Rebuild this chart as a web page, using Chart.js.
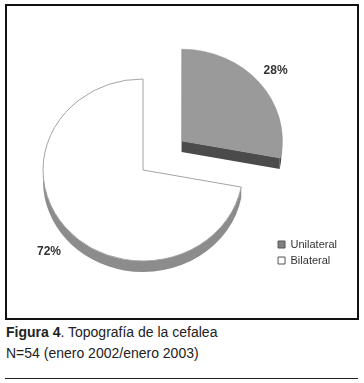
<!DOCTYPE html>
<html lang="es">
<head>
<meta charset="UTF-8">
<title>Topografía de la cefalea</title>
<meta name="viewport" content="width=device-width, initial-scale=1.0">
<style>
  body {
    margin: 0;
    background: #fff;
    font-family: "Liberation Sans", Arial, sans-serif;
  }
  #box {
    position: absolute;
    left: 5px; top: 4px;
    width: 350px; height: 312px;
    border: 2px solid #111;
  }
  #wrap {
    position: absolute;
    left: 0; top: 0;
    width: 364px; height: 320px;
  }
  #caption {
    position: absolute;
    left: 6px; top: 322px;
    font-size: 14px;
    line-height: 21px;
    color: #222;
  }
  #rule {
    position: absolute;
    left: 5px; top: 378px;
    width: 353px; height: 1px;
    background: #222;
  }
</style>
</head>
<body>

<div id="box"></div>
<div id="wrap"><canvas id="pie"></canvas></div>
<div id="caption"><b>Figura 4</b>. Topografía de la cefalea<br>N=54 (enero 2002/enero 2003)</div>
<div id="rule"></div>

<script src="https://cdn.jsdelivr.net/npm/chart.js"></script>
<script>
// datos
const categories = ["Unilateral", "Bilateral"];
const percentages = [28, 72];

// estilo
const sliceColors = ["#9a9a9a", "#ffffff"];
const sliceBorders = ["#8a8a8a", "#a0a0a0"];
const sideColors = ["#4b4b4b", "#8c8c8c"];
const TILT = 0.91;       // aplastado vertical del "3D"
const DEPTH = 11;        // grosor visible en px
const OFFSET_DIV = 4;    // ArcElement divide el offset al dibujar

function arcGeom(arc) {
  const p = arc.getProps(["x", "y", "startAngle", "endAngle", "outerRadius"], true);
  const mid = (p.startAngle + p.endAngle) / 2;
  const off = (arc.options.offset || 0) / OFFSET_DIV;
  return {
    cx: p.x + Math.cos(mid) * off,
    cy: p.y + Math.sin(mid) * off,
    r: p.outerRadius, s: p.startAngle, e: p.endAngle, mid: mid
  };
}

const pie3d = {
  id: "pie3d",
  beforeDatasetsDraw(chart) {
    const ctx = chart.ctx;
    const meta = chart.getDatasetMeta(0);
    const cy0 = meta.data[0].y;
    ctx.save();
    ctx.translate(0, cy0);
    ctx.scale(1, TILT);
    ctx.translate(0, -cy0);
    const d = DEPTH / TILT;
    meta.data.forEach((arc, i) => {
      const g = arcGeom(arc);
      ctx.fillStyle = sideColors[i];
      // pared exterior (solo la mitad frontal)
      const a1 = Math.max(g.s, 0), a2 = Math.min(g.e, Math.PI);
      if (a2 > a1) {
        ctx.beginPath();
        ctx.arc(g.cx, g.cy + d, g.r, a1, a2);
        ctx.arc(g.cx, g.cy, g.r, a2, a1, true);
        ctx.closePath();
        ctx.fill();
      }
      // cara de corte de la porción separada
      if (arc.options.offset > 0 && Math.cos(g.e) > 0) {
        const ex = g.cx + g.r * Math.cos(g.e), ey = g.cy + g.r * Math.sin(g.e);
        ctx.beginPath();
        ctx.moveTo(g.cx, g.cy);
        ctx.lineTo(ex, ey);
        ctx.lineTo(ex, ey + d);
        ctx.lineTo(g.cx, g.cy + d);
        ctx.closePath();
        ctx.fill();
      }
    });
  },
  afterDatasetsDraw(chart) {
    const ctx = chart.ctx;
    ctx.restore();
    const meta = chart.getDatasetMeta(0);
    const cy0 = meta.data[0].y;
    ctx.save();
    ctx.font = "bold 12px 'Liberation Sans', Arial, sans-serif";
    ctx.fillStyle = "#333";
    ctx.textAlign = "center";
    ctx.textBaseline = "middle";
    meta.data.forEach((arc, i) => {
      const g = arcGeom(arc);
      const rl = g.r * 1.22;
      const x = g.cx + Math.cos(g.mid) * rl;
      let y = g.cy + Math.sin(g.mid) * rl;
      y = cy0 + (y - cy0) * TILT;
      if (Math.sin(g.mid) > 0) y += DEPTH;
      ctx.fillText(percentages[i] + "%", x, y);
    });
    ctx.restore();
  }
};

new Chart(document.getElementById("pie"), {
  type: "pie",
  data: {
    labels: categories,
    datasets: [{
      data: percentages,
      backgroundColor: sliceColors,
      borderColor: sliceBorders,
      borderWidth: [0.5, 1],
      offset: [200, 0],
      hoverOffset: 0,
      clip: false
    }]
  },
  options: {
    responsive: true,
    maintainAspectRatio: false,
    animation: false,
    events: [],
    radius: 100,
    layout: { padding: { top: 69, bottom: 49, left: 13, right: 17 } },
    plugins: {
      tooltip: { enabled: false },
      legend: {
        position: "right",
        align: "end",
        labels: {
          boxWidth: 7,
          boxHeight: 7,
          padding: 5,
          color: "#333",
          font: { family: "'Liberation Sans', Arial, sans-serif", size: 11 },
          generateLabels: () => categories.map((c, i) => ({
            text: c,
            fillStyle: i === 0 ? "#808080" : "#ffffff",
            strokeStyle: "#555",
            lineWidth: 1,
            fontColor: "#333",
            hidden: false,
            index: i
          }))
        }
      }
    }
  },
  plugins: [pie3d]
});
</script>

</body>
</html>
